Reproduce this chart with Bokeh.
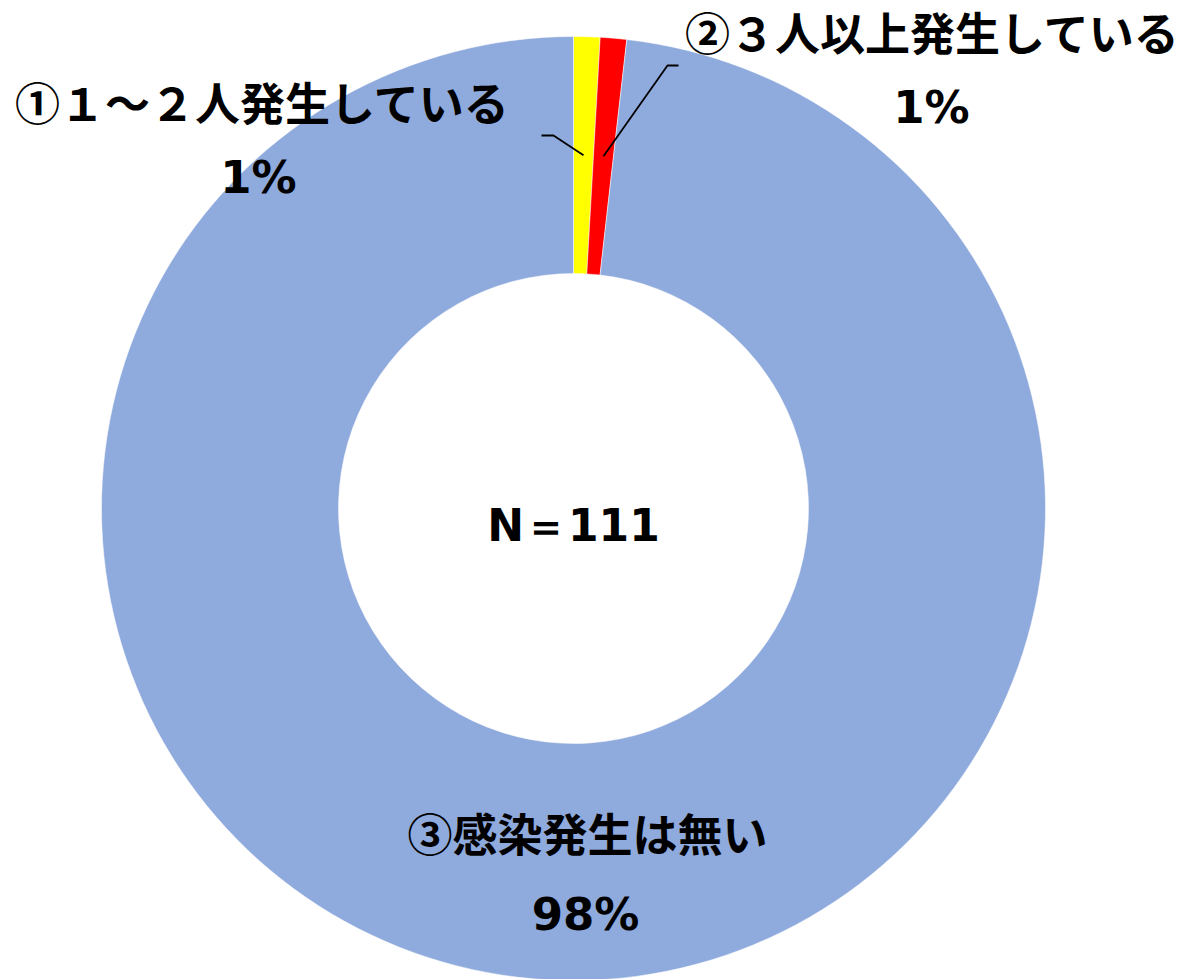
import math
from bokeh.plotting import figure
from bokeh.models import Range1d, ColumnDataSource
from bokeh.core.properties import value
from bokeh.embed import file_html
from bokeh.resources import INLINE

# ---- data ----
categories = ["①１～２人発生している", "②３人以上発生している", "③感染発生は無い"]
counts = [1, 1, 109]
colors = ["#FFFF00", "#FF0000", "#8FAADC"]
center_text = "N＝111"

W, H = 1188, 979
total = sum(counts)
pcts = [f"{round(100 * c / total)}%" for c in counts]

# ---- layout (pixel coords, y measured from top) ----
cx, cy_px = 573, 508
cy = H - cy_px
r_out, r_in = 472, 235

p = figure(width=W, height=H, x_range=Range1d(0, W), y_range=Range1d(0, H),
           output_backend="svg", toolbar_location=None, min_border=0)
p.axis.visible = False
p.grid.visible = False
p.outline_line_color = None
p.background_fill_color = "white"

starts, ends, mids = [], [], []
cum = 0
for c in counts:
    a0 = math.pi / 2 - 2 * math.pi * cum / total
    cum += c
    a1 = math.pi / 2 - 2 * math.pi * cum / total
    starts.append(a0)
    ends.append(a1)
    mids.append((a0 + a1) / 2)

src = ColumnDataSource(dict(start=starts, end=ends, color=colors))
p.annular_wedge(x=cx, y=cy, inner_radius=r_in, outer_radius=r_out,
                start_angle="start", end_angle="end", direction="clock",
                fill_color="color", line_color="white", line_width=0.5, source=src)

# leader lines for the two small slices
r_mid = (r_in + r_out) / 2
elbows = [(553, 135), (667, 65)]
tails = [(541, 135), (678, 65)]
for i in range(2):
    ax = cx + r_mid * math.cos(mids[i])
    ay = cy + r_mid * math.sin(mids[i])
    ex, ey = elbows[i][0], H - elbows[i][1]
    tx, ty = tails[i][0], H - tails[i][1]
    p.line([ax, ex, tx], [ay, ey, ty], line_color="black", line_width=1.8)

# labels
name_pos = [(262, 101), (932, 31), (587, 832)]
pct_pos = [(258, 177), (931, 107), (585, 914)]
jp_font = value("Noto Sans CJK JP")
num_font = value("DejaVu Sans")

p.text(x=[q[0] for q in name_pos], y=[H - q[1] for q in name_pos], text=categories,
       text_font=jp_font, text_font_size="45px", text_font_style="bold",
       text_align="center", text_baseline="middle", text_color="black")
p.text(x=[q[0] for q in pct_pos], y=[H - q[1] for q in pct_pos], text=pcts,
       text_font=num_font, text_font_size="45px", text_font_style="bold",
       text_align="center", text_baseline="middle", text_color="black")
p.text(x=[cx], y=[H - 525], text=[center_text],
       text_font=value("DejaVu Sans"), text_font_size="44px", text_font_style="bold",
       text_align="center", text_baseline="middle", text_color="black")

open("out.html", "w").write(file_html(p, INLINE))
